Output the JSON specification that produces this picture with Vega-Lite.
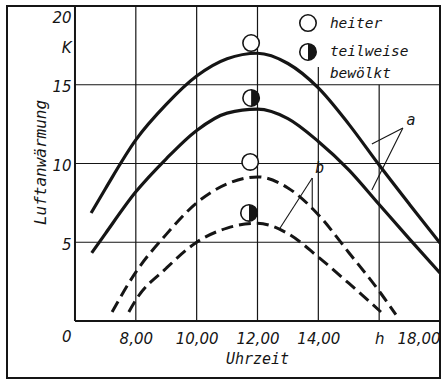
{
  "$schema": "https://vega.github.io/schema/vega-lite/v6.json",
  "width": 433,
  "height": 372,
  "autosize": {"type": "none"},
  "padding": {"left": 7, "top": 6, "right": 1, "bottom": 3},
  "background": "white",
  "config": {
    "view": {"stroke": "#151515", "strokeWidth": 2},
    "font": "DejaVu Sans Mono",
    "axis": {
      "domain": false, "ticks": false, "grid": false,
      "labelFont": "DejaVu Sans", "labelFontStyle": "italic", "labelColor": "#151515", "labelFontSize": 15,
      "titleFont": "DejaVu Sans Mono", "titleFontStyle": "italic", "titleFontWeight": "normal", "titleColor": "#151515"
    }
  },
  "datasets": {
    "grid": [
      {"h": 8, "v": 0, "h2": 8, "v2": 20},
      {"h": 10, "v": 0, "h2": 10, "v2": 20},
      {"h": 12, "v": 0, "h2": 12, "v2": 20},
      {"h": 14, "v": 0, "h2": 14, "v2": 16.13},
      {"h": 16, "v": 0, "h2": 16, "v2": 15},
      {"h": 6, "v": 5, "h2": 18, "v2": 5},
      {"h": 6, "v": 10, "h2": 18, "v2": 10},
      {"h": 6, "v": 15, "h2": 18, "v2": 15}
    ],
    "frame": [
      {"h": 6, "v": 0, "h2": 6, "v2": 20},
      {"h": 6, "v": 0, "h2": 18, "v2": 0}
    ],
    "notes": [
      {"h": 16.78, "v": 12.25, "h2": 15.76, "v2": 11.24},
      {"h": 16.78, "v": 12.25, "h2": 15.76, "v2": 8.32},
      {"h": 13.8, "v": 9.08, "h2": 12.7, "v2": 5.78},
      {"h": 13.8, "v": 9.08, "h2": 13.8, "v2": 7.05}
    ],
    "solid": [
      {"curve": "a heiter", "h": 6.53, "v": 6.86},
      {"curve": "a heiter", "h": 7, "v": 8.4},
      {"curve": "a heiter", "h": 8, "v": 11.5},
      {"curve": "a heiter", "h": 9, "v": 13.75},
      {"curve": "a heiter", "h": 10, "v": 15.55},
      {"curve": "a heiter", "h": 11, "v": 16.65},
      {"curve": "a heiter", "h": 12, "v": 17.0},
      {"curve": "a heiter", "h": 13, "v": 16.35},
      {"curve": "a heiter", "h": 14, "v": 14.8},
      {"curve": "a heiter", "h": 15, "v": 12.5},
      {"curve": "a heiter", "h": 16, "v": 9.9},
      {"curve": "a heiter", "h": 17, "v": 7.4},
      {"curve": "a heiter", "h": 18, "v": 4.95},
      {"curve": "a teilweise", "h": 6.55, "v": 4.32},
      {"curve": "a teilweise", "h": 7, "v": 5.55},
      {"curve": "a teilweise", "h": 8, "v": 8.2},
      {"curve": "a teilweise", "h": 9, "v": 10.3},
      {"curve": "a teilweise", "h": 10, "v": 12.1},
      {"curve": "a teilweise", "h": 11, "v": 13.2},
      {"curve": "a teilweise", "h": 12, "v": 13.45},
      {"curve": "a teilweise", "h": 13, "v": 12.85},
      {"curve": "a teilweise", "h": 14, "v": 11.4},
      {"curve": "a teilweise", "h": 15, "v": 9.6},
      {"curve": "a teilweise", "h": 16, "v": 7.4},
      {"curve": "a teilweise", "h": 17, "v": 5.2},
      {"curve": "a teilweise", "h": 18, "v": 3.05}
    ],
    "dashed": [
      {"curve": "b heiter", "h": 7.22, "v": 0.57},
      {"curve": "b heiter", "h": 8, "v": 3.1},
      {"curve": "b heiter", "h": 9, "v": 5.5},
      {"curve": "b heiter", "h": 10, "v": 7.5},
      {"curve": "b heiter", "h": 11, "v": 8.7},
      {"curve": "b heiter", "h": 12, "v": 9.15},
      {"curve": "b heiter", "h": 13, "v": 8.45},
      {"curve": "b heiter", "h": 14, "v": 6.75},
      {"curve": "b heiter", "h": 15, "v": 4.35},
      {"curve": "b heiter", "h": 16, "v": 1.9},
      {"curve": "b heiter", "h": 16.55, "v": 0.4},
      {"curve": "b teilweise", "h": 7.77, "v": 0.57},
      {"curve": "b teilweise", "h": 8, "v": 1.33},
      {"curve": "b teilweise", "h": 9, "v": 3.35},
      {"curve": "b teilweise", "h": 10, "v": 5.0},
      {"curve": "b teilweise", "h": 11, "v": 5.9},
      {"curve": "b teilweise", "h": 12, "v": 6.2},
      {"curve": "b teilweise", "h": 13, "v": 5.55},
      {"curve": "b teilweise", "h": 14, "v": 4.06},
      {"curve": "b teilweise", "h": 15, "v": 2.4},
      {"curve": "b teilweise", "h": 16.06, "v": 0.57}
    ],
    "points": [
      {"kind": "heiter", "h": 11.79, "v": 17.65},
      {"kind": "heiter", "h": 11.76, "v": 10.1},
      {"kind": "teilweise", "h": 11.79, "v": 14.16},
      {"kind": "teilweise", "h": 11.72, "v": 6.86},
      {"kind": "heiter", "h": 13.66, "v": 18.92},
      {"kind": "teilweise", "h": 13.66, "v": 17.08}
    ],
    "legendText": [
      {"h": 14.38, "v": 18.86, "text": "heiter"},
      {"h": 14.38, "v": 17.05, "text": "teilweise"},
      {"h": 14.38, "v": 15.71, "text": "bewölkt"}
    ],
    "curveLabels": [
      {"h": 17.05, "v": 12.76, "text": "a"},
      {"h": 14.05, "v": 9.71, "text": "b"}
    ]
  },
  "encoding": {
    "x": {"field": "h", "type": "quantitative", "scale": {"domain": [3.765, 18], "nice": false, "zero": false},
      "axis": {"values": [8, 10, 12, 14, 16, 18], "labelExpr": "datum.value == 16 ? 'h' : replace(format(datum.value, '.2f'), '.', ',')",
        "labelPadding": -47, "labelFlush": true, "labelOverlap": false, "labelBound": false,
        "title": "Uhrzeit", "titleX": 250, "titleY": -20, "titleBaseline": "middle", "titleAlign": "center", "titleAngle": 0, "titleFontSize": 15}},
    "y": {"field": "v", "type": "quantitative", "scale": {"domain": [-3.62, 20], "nice": false, "zero": false},
      "axis": {"values": [0, 5, 10, 15, 17.5, 20], "labelExpr": "datum.value == 17.5 ? 'K' : datum.label",
        "labelPadding": -64, "labelAlign": "right", "labelBaseline": "middle", "labelOverlap": false, "labelBound": false,
        "labelOffset": {"condition": [{"test": "datum.value == 20", "value": 11}, {"test": "datum.value == 0", "value": 16}], "value": 2},
        "title": "Luftanwärmung", "titleX": 33, "titleY": 156, "titleBaseline": "middle", "titleAlign": "center", "titleAngle": 270, "titleFontSize": 16}}
  },
  "layer": [
    {
      "data": {"name": "grid"},
      "mark": {"type": "rule", "color": "#151515", "strokeWidth": 1.2},
      "encoding": {"x2": {"field": "h2"}, "y2": {"field": "v2"}}
    },
    {
      "data": {"name": "frame"},
      "mark": {"type": "rule", "color": "#151515", "strokeWidth": 2},
      "encoding": {"x2": {"field": "h2"}, "y2": {"field": "v2"}}
    },
    {
      "data": {"name": "notes"},
      "mark": {"type": "rule", "color": "#151515", "strokeWidth": 1.1},
      "encoding": {"x2": {"field": "h2"}, "y2": {"field": "v2"}}
    },
    {
      "data": {"name": "solid"},
      "mark": {"type": "line", "color": "#151515", "strokeWidth": 3.2, "interpolate": "monotone"},
      "encoding": {"detail": {"field": "curve"}}
    },
    {
      "data": {"name": "dashed"},
      "mark": {"type": "line", "color": "#151515", "strokeWidth": 3, "strokeDash": [12, 6], "interpolate": "monotone"},
      "encoding": {"detail": {"field": "curve"}}
    },
    {
      "data": {"name": "points"},
      "mark": {"type": "point", "shape": "circle", "filled": true, "fill": "white", "stroke": "#151515", "strokeWidth": 1.6, "size": 270, "opacity": 1}
    },
    {
      "data": {"name": "points"},
      "transform": [{"filter": "datum.kind == 'teilweise'"}],
      "mark": {"type": "point", "shape": "M0,-1A1,1,0,0,1,0,1Z", "filled": true, "fill": "#151515", "strokeWidth": 0, "size": 270, "opacity": 1}
    },
    {
      "data": {"name": "legendText"},
      "mark": {"type": "text", "align": "left", "baseline": "middle", "font": "DejaVu Sans Mono", "fontStyle": "italic", "fontSize": 14.5, "color": "#151515"},
      "encoding": {"text": {"field": "text"}}
    },
    {
      "data": {"name": "curveLabels"},
      "mark": {"type": "text", "align": "center", "baseline": "middle", "font": "DejaVu Sans Mono", "fontStyle": "italic", "fontSize": 15, "color": "#151515"},
      "encoding": {"text": {"field": "text"}}
    }
  ]
}
